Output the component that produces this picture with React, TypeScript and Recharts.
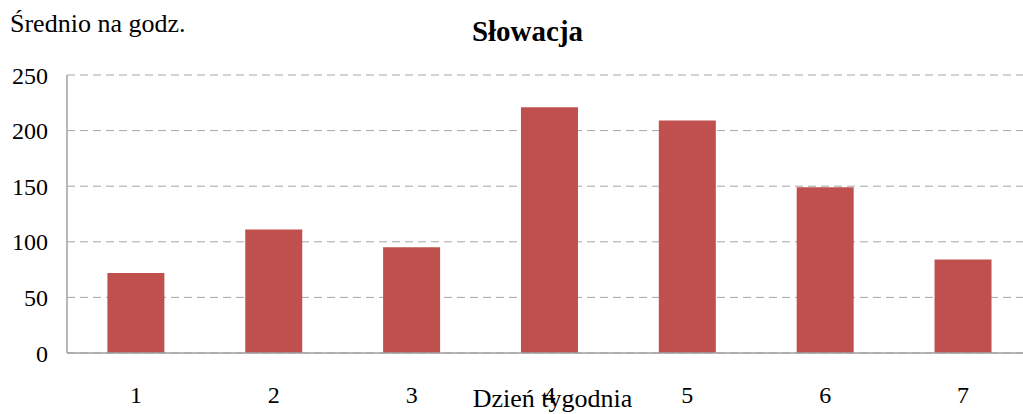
import { BarChart, Bar, XAxis, YAxis, CartesianGrid } from 'recharts';

const days = ['1', '2', '3', '4', '5', '6', '7'];
const averages = [72, 111, 95, 221, 209, 149, 84];
const yTicks = [0, 50, 100, 150, 200, 250];

const data = days.map((day, i) => ({ day, value: averages[i] }));

const font = "'Liberation Serif', 'DejaVu Serif', serif";

export default function App() {
  return (
    <div style={{ position: 'absolute', left: 0, top: 0, width: 1023, height: 414, background: '#fff', fontFamily: font, overflow: 'hidden' }}>
      <BarChart
        width={1023}
        height={414}
        data={data}
        margin={{ top: 75, right: -9, left: 0, bottom: 0 }}
        barCategoryGap="29.3%"
        style={{ fontFamily: font, overflow: 'hidden' }}
      >
        <CartesianGrid vertical={false} stroke="#a6a6a6" strokeDasharray="8 5" />
        <XAxis
          dataKey="day"
          height={61}
          tickLine={false}
          tickSize={0}
          tickMargin={33}
          axisLine={{ stroke: '#a0a0a0', strokeWidth: 1.5 }}
          tick={{ fill: '#000', fontSize: 24, style: { fontFamily: font } }}
        />
        <YAxis
          width={67}
          domain={[0, 250]}
          ticks={yTicks}
          tickLine={false}
          tickSize={0}
          tickMargin={19}
          axisLine={{ stroke: '#a0a0a0', strokeWidth: 1.5 }}
          tick={{ fill: '#000', fontSize: 24, style: { fontFamily: font } }}
        />
        <Bar dataKey="value" fill="#c0504d" isAnimationActive={false} />
      </BarChart>
      <svg
        width={1023}
        height={414}
        style={{ position: 'absolute', left: 0, top: 0, pointerEvents: 'none', fontFamily: font }}
      >
        <text x={527.5} y={41} textAnchor="middle" fontWeight="bold" fontSize={29} fill="#000" style={{ fontFamily: font }}>
          Słowacja
        </text>
        <text x={10} y={32} fontSize={26} fill="#000" style={{ fontFamily: font }}>
          Średnio na godz.
        </text>
        <text x={552.5} y={407} textAnchor="middle" fontSize={26} fill="#000" style={{ fontFamily: font }}>
          Dzień tygodnia
        </text>
      </svg>
    </div>
  );
}
